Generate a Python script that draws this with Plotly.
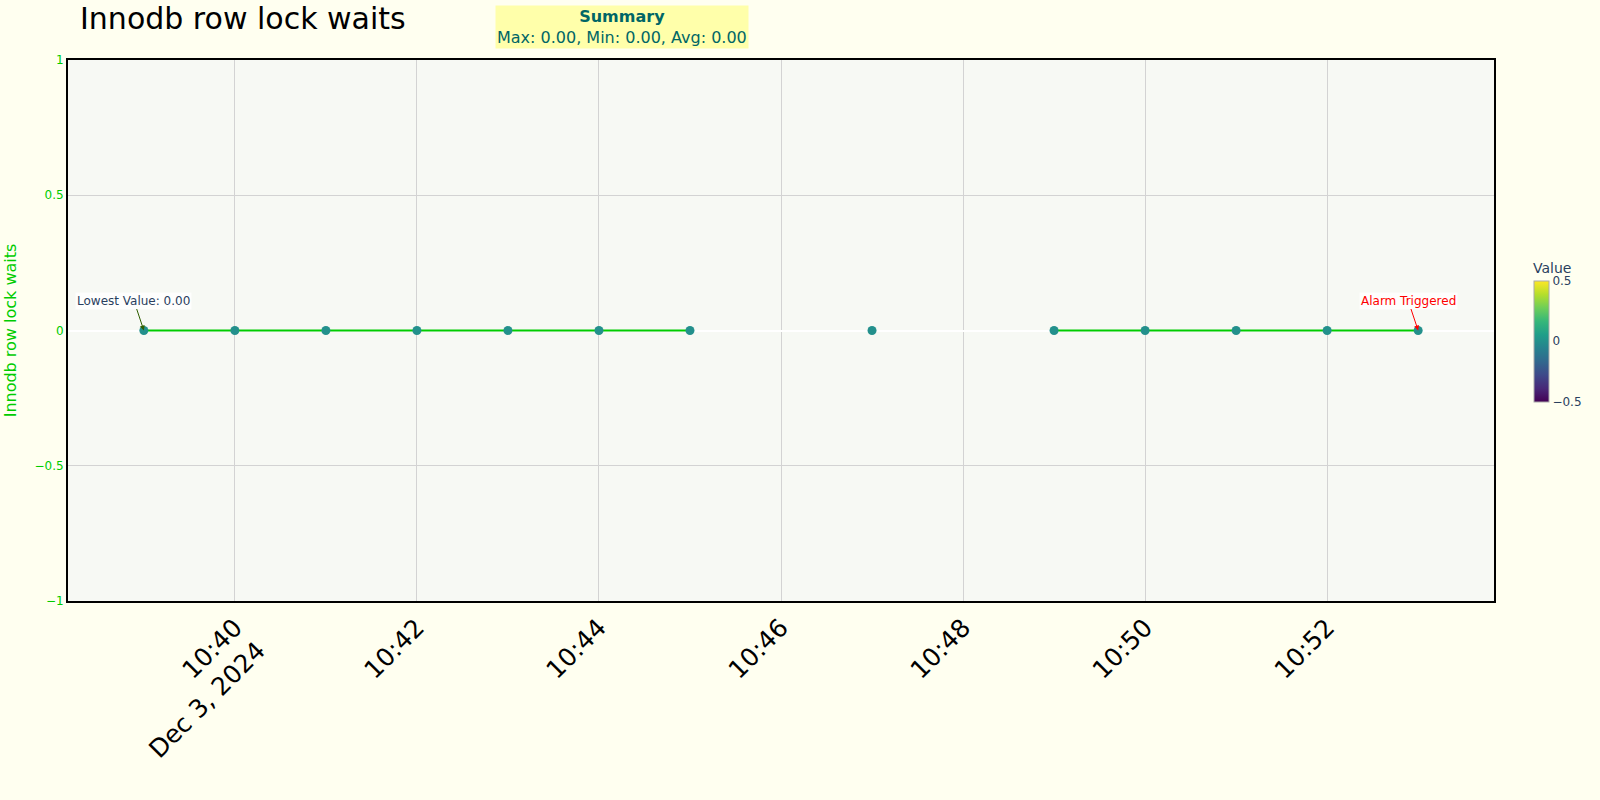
import plotly.graph_objects as go

times = ["2024-12-03 10:39", "2024-12-03 10:40", "2024-12-03 10:41", "2024-12-03 10:42",
         "2024-12-03 10:43", "2024-12-03 10:44", "2024-12-03 10:45", "2024-12-03 10:46",
         "2024-12-03 10:47", "2024-12-03 10:48", "2024-12-03 10:49", "2024-12-03 10:50",
         "2024-12-03 10:51", "2024-12-03 10:52", "2024-12-03 10:53"]
values = [0, 0, 0, 0, 0, 0, 0, None, 0, None, 0, 0, 0, 0, 0]

valid = [v for v in values if v is not None]
vmax, vmin, vavg = max(valid), min(valid), sum(valid) / len(valid)

fig = go.Figure()
fig.add_trace(go.Scatter(
    x=times, y=values, mode="lines+markers",
    line=dict(color="#00cc00", width=2),
    marker=dict(size=9, color=[v if v is not None else 0 for v in values],
                colorscale="Viridis", cmin=-0.5, cmax=0.5, showscale=True,
                colorbar=dict(title=dict(text="Value", side="top", font=dict(size=14)), len=0.3, thickness=15,
                              x=1.02, y=0.5, tickvals=[-0.5, 0, 0.5], ticktext=["\u22120.5", "0", "0.5"],
                              tickfont=dict(size=12),
                              outlinewidth=1, outlinecolor="#aaaaaa")),
    showlegend=False,
))

fig.add_annotation(x=times[0], y=values[0], text="Lowest Value: %.2f" % vmin,
                   showarrow=True, arrowhead=2, arrowsize=1, arrowwidth=1, arrowcolor="#2f5f00",
                   ax=-10, ay=-30, font=dict(size=12, color="#2a3f5f"),
                   bgcolor="rgba(255,255,255,0.8)")
fig.add_annotation(x=times[-1], y=values[-1], text="Alarm Triggered",
                   showarrow=True, arrowhead=2, arrowsize=1, arrowwidth=1, arrowcolor="red",
                   ax=-10, ay=-30, font=dict(size=12, color="red"),
                   bgcolor="rgba(255,255,255,0.8)")
fig.add_annotation(xref="paper", yref="paper", x=0.3885, y=1.02, xanchor="center", yanchor="bottom",
                   text="<b>Summary</b><br>Max: %.2f, Min: %.2f, Avg: %.2f" % (vmax, vmin, vavg),
                   showarrow=False, font=dict(size=16, color="#006666"),
                   bgcolor="#ffffaa", align="center")

fig.update_layout(
    width=1600, height=800,
    title=dict(text="Innodb row lock waits", x=0.05, xanchor="left", y=0.977, yanchor="middle",
               font=dict(size=30, color="black")),
    paper_bgcolor="#fffff0", plot_bgcolor="#f7f9f4",
    margin=dict(l=68, r=105, t=60, b=199),
    font=dict(family="DejaVu Sans"),
)
fig.update_xaxes(range=["2024-12-03 10:38:10", "2024-12-03 10:53:50"], tickangle=-45,
                 tickfont=dict(size=25, color="black"), showgrid=True, gridcolor="#d3d3d3",
                 showline=True, linecolor="black", linewidth=2, mirror=True, dtick=120000,
                 automargin=False)
fig.update_yaxes(range=[-1, 1], tickvals=[-1, -0.5, 0, 0.5, 1], ticktext=["\u22121", "\u22120.5", "0", "0.5", "1"],
                 tickfont=dict(size=12, color="#00cc00"),
                 title=dict(text="Innodb row lock waits", font=dict(size=16, color="#00cc00"), standoff=14),
                 showgrid=True, gridcolor="#d3d3d3", zeroline=True, zerolinecolor="white", zerolinewidth=2,
                 showline=True, linecolor="black", linewidth=2, mirror=True, automargin=False)

fig.write_html("out.html", config={"displayModeBar": False},
               post_script="document.body.style.margin='0';document.body.style.overflow='hidden';")
